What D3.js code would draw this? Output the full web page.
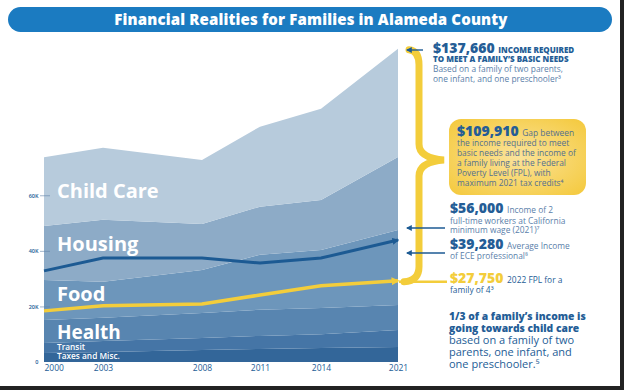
<!DOCTYPE html>
<html>
<head>
<meta charset="utf-8">
<script src="https://cdn.jsdelivr.net/npm/d3@7"></script>
<style>
  body { margin: 0; background: #fff; }
  svg { display: block; font-family: "Open Sans", sans-serif; }
</style>
</head>
<body>
<div id="displaybox"></div>
<script>
// years on the x axis
let years = [2000, 2003, 2008, 2011, 2014, 2021];

// stacked household costs (bottom to top)
let taxes     = [3200, 3600, 4300, 4700, 5000, 5400];
let transit   = [3600, 4000, 4300, 4700, 5000, 6100];
let health    = [8300, 8300, 9000, 9400, 9400, 9000];
let food      = [14400, 13000, 15500, 19800, 20900, 27000];
let housing   = [19400, 22300, 16600, 17300, 18000, 26300];
let childCare = [24800, 25900, 23000, 28800, 32800, 38900];

// lines drawn over the stack
let eceIncome = [32800, 37400, 37400, 35600, 37400, 43900];
let fplLine   = [18400, 20200, 20900, 24100, 27400, 29200];

let layerNames = ["Taxes and Misc.", "Transit", "Health", "Food", "Housing", "Child Care"];
let layerColors = ["#336699", "#4575a6", "#5885b0", "#6d96bb", "#8dabc7", "#b7cbdc"];
let yTicks = [0, 20000, 40000, 60000];

let table = years.map((yr, i) => ({
    year: yr,
    "Taxes and Misc.": taxes[i],
    "Transit": transit[i],
    "Health": health[i],
    "Food": food[i],
    "Housing": housing[i],
    "Child Care": childCare[i]
}));

let W = 624, H = 390;
let svg = d3.select("#displaybox").append("svg")
    .attr("width", W).attr("height", H);

let navy = "#245d96", soft = "#5a80aa", gold = "#f3cd3b";

// title pill
svg.append("rect")
    .attr("x", 8).attr("y", 7).attr("width", 604).attr("height", 25)
    .attr("rx", 12.5).attr("fill", "#1b7bc1");
svg.append("text")
    .attr("x", 311).attr("y", 25)
    .attr("text-anchor", "middle")
    .attr("fill", "#fff")
    .style("font-size", "15px").style("font-weight", 800)
    .style("letter-spacing", "0.15px")
    .text("Financial Realities for Families in Alameda County");

// scales: years are not evenly spaced in the original layout
let x = d3.scaleLinear()
    .domain(years)
    .range([44, 103, 202, 260, 321, 398]);
let y = d3.scaleLinear()
    .domain([0, 113000])
    .range([362, 48]);

let stack = d3.stack().keys(layerNames);
let series = stack(table);

let area = d3.area()
    .x(d => x(d.data.year))
    .y0(d => y(d[0]))
    .y1(d => y(d[1]));

svg.append("g").selectAll("path").data(series)
    .enter()
    .append("path")
        .attr("d", area)
        .attr("fill", (d, i) => layerColors[i]);

// y axis
let yAxis = svg.append("g")
    .attr("transform", "translate(50,0)")
    .call(d3.axisLeft(y).tickValues(yTicks)
        .tickFormat(d => d ? d / 1000 + "K" : "0")
        .tickSize(10).tickPadding(1.5));
yAxis.select(".domain").remove();
yAxis.selectAll("line").attr("stroke", "#5f82a8").attr("stroke-width", 0.6);
yAxis.selectAll(".tick").filter(d => d === 0).select("line").remove();
yAxis.selectAll("text")
    .attr("fill", navy)
    .style("font-size", "5.5px").style("font-weight", 600)
    .style("font-family", "Open Sans, sans-serif");

// x axis
let xAxis = svg.append("g")
    .attr("transform", "translate(0,362)")
    .call(d3.axisBottom(x).tickValues(years).tickFormat(d3.format("d"))
        .tickSize(0).tickPadding(3));
xAxis.select(".domain").remove();
xAxis.selectAll("text")
    .attr("fill", navy)
    .style("font-size", "8.5px").style("font-weight", 500)
    .style("font-family", "Open Sans, sans-serif")
    .attr("text-anchor", (d, i) => i === 0 ? "start" : "middle");

// arrow markers
let defs = svg.append("defs");
function marker(id, color, size) {
    defs.append("marker")
        .attr("id", id)
        .attr("viewBox", "0 0 10 10")
        .attr("refX", 8).attr("refY", 5)
        .attr("markerWidth", size).attr("markerHeight", size)
        .attr("markerUnits", "userSpaceOnUse")
        .attr("orient", "auto")
        .append("path")
            .attr("d", "M0,0 L10,5 L0,10 Z")
            .attr("fill", color);
}
marker("arrNavy", "#1c5a93", 7);
marker("arrGold", gold, 8);
marker("arrThin", "#1c5a93", 6);

let grad = defs.append("radialGradient").attr("id", "boxGrad")
    .attr("cx", "50%").attr("cy", "50%").attr("r", "70%");
grad.append("stop").attr("offset", "0%").attr("stop-color", "#fbe39a");
grad.append("stop").attr("offset", "100%").attr("stop-color", "#f4c93c");

// overlay lines
let line = d3.line()
    .x((d, i) => x(years[i]))
    .y(d => y(d));

svg.append("path")
    .attr("d", line(eceIncome))
    .attr("fill", "none")
    .attr("stroke", "#1c5a93")
    .attr("stroke-width", 3)
    .attr("marker-end", "url(#arrNavy)");

svg.append("path")
    .attr("d", line(fplLine))
    .attr("fill", "none")
    .attr("stroke", gold)
    .attr("stroke-width", 3.5)
    .attr("marker-end", "url(#arrGold)");

// layer labels
let bigLabels = [
    {t: "Child Care", y: 198, s: 20},
    {t: "Housing", y: 251, s: 20},
    {t: "Food", y: 301, s: 20},
    {t: "Health", y: 339, s: 19},
    {t: "Transit", y: 349.5, s: 8.3},
    {t: "Taxes and Misc.", y: 359, s: 8.3}
];
svg.append("g").selectAll("text").data(bigLabels)
    .enter()
    .append("text")
        .attr("x", 57).attr("y", d => d.y)
        .attr("fill", "#fff")
        .style("font-size", d => d.s + "px")
        .style("font-weight", d => d.s > 10 ? 700 : 600)
        .text(d => d.t);

// curly brace from the top of the stack down to the FPL line
let last = table[table.length - 1];
let topY = y(d3.sum(layerNames, k => last[k]));
let botY = y(fplLine[fplLine.length - 1]);
let midY = 160;
let bx = 419;
let brace = d3.path();
brace.moveTo(409, topY + 1);
brace.quadraticCurveTo(bx, topY + 2, bx, topY + 16);
brace.lineTo(bx, midY - 16);
brace.quadraticCurveTo(bx, midY - 2, bx + 25, midY);
brace.quadraticCurveTo(bx, midY + 2, bx, midY + 16);
brace.lineTo(bx, botY - 14);
brace.quadraticCurveTo(bx, botY, 404, botY + 1);
svg.append("path")
    .attr("d", brace.toString())
    .attr("fill", "none")
    .attr("stroke", gold)
    .attr("stroke-width", 7)
    .attr("stroke-linecap", "round");
svg.append("line")
    .attr("x1", 399).attr("x2", 447)
    .attr("y1", botY + 1).attr("y2", botY + 1)
    .attr("stroke", gold).attr("stroke-width", 2.5);

// pointer arrows on the right
let pointers = [
    {x1: 423, y: 50},
    {x1: 445, y: 228},
    {x1: 445, y: 253}
];
svg.append("g").selectAll("line").data(pointers)
    .enter()
    .append("line")
        .attr("x1", d => d.x1).attr("x2", 407)
        .attr("y1", d => d.y).attr("y2", d => d.y)
        .attr("stroke", "#1c5a93").attr("stroke-width", 1.4)
        .attr("marker-end", "url(#arrThin)");

// yellow call-out box
svg.append("rect")
    .attr("x", 449).attr("y", 119).attr("width", 137).attr("height", 76)
    .attr("rx", 12).attr("fill", "url(#boxGrad)");

function para(x0, lines) {
    let t = svg.append("text").attr("x", x0);
    lines.forEach(l => {
        let row = t.append("tspan").attr("x", x0).attr("y", l.y);
        l.parts.forEach(p => {
            row.append("tspan")
                .attr("fill", p.c)
                .style("font-size", p.s + "px")
                .style("font-weight", p.w || 400)
                .text(p.t);
        });
    });
}

let sm = 8.4;
para(433, [
    {y: 53, parts: [{t: "$137,660 ", c: navy, s: 14, w: 800}, {t: "INCOME REQUIRED", c: navy, s: 8, w: 800}]},
    {y: 62, parts: [{t: "TO MEET A FAMILY\u2019S BASIC NEEDS", c: navy, s: 8, w: 800}]},
    {y: 72, parts: [{t: "Based on a family of two parents,", c: soft, s: sm}]},
    {y: 81.5, parts: [{t: "one infant, and one preschooler\u00b3", c: soft, s: sm}]}
]);

let boxText = "#54708f";
para(457, [
    {y: 136, parts: [{t: "$109,910 ", c: navy, s: 14, w: 800}, {t: "Gap between", c: boxText, s: sm}]},
    {y: 146, parts: [{t: "the income required to meet", c: boxText, s: sm}]},
    {y: 156, parts: [{t: "basic needs and the income of", c: boxText, s: sm}]},
    {y: 166, parts: [{t: "a family living at the Federal", c: boxText, s: sm}]},
    {y: 176, parts: [{t: "Poverty Level (FPL), with", c: boxText, s: sm}]},
    {y: 186, parts: [{t: "maximum 2021 tax credits\u2074", c: boxText, s: sm}]}
]);

para(450, [
    {y: 213, parts: [{t: "$56,000 ", c: navy, s: 14, w: 800}, {t: "Income of 2", c: soft, s: sm}]},
    {y: 224, parts: [{t: "full-time workers at California", c: soft, s: sm}]},
    {y: 233, parts: [{t: "minimum wage (2021)\u2077", c: soft, s: sm}]},
    {y: 249, parts: [{t: "$39,280 ", c: navy, s: 14, w: 800}, {t: "Average Income", c: soft, s: sm}]},
    {y: 259, parts: [{t: "of ECE professional\u2078", c: soft, s: sm}]},
    {y: 283, parts: [{t: "$27,750 ", c: gold, s: 14, w: 800}, {t: "2022 FPL for a", c: navy, s: sm}]},
    {y: 292.5, parts: [{t: "family of 4\u00b3", c: navy, s: sm}]}
]);

para(449, [
    {y: 320, parts: [{t: "1/3 of a family\u2019s income is", c: navy, s: 10.3, w: 800}]},
    {y: 332, parts: [{t: "going towards child care", c: navy, s: 10.3, w: 800}]},
    {y: 344, parts: [{t: "based on a family of two", c: navy, s: 11}]},
    {y: 356, parts: [{t: "parents, one infant, and", c: navy, s: 11}]},
    {y: 368, parts: [{t: "one preschooler.\u2075", c: navy, s: 11}]}
]);

// dark frame on the right and bottom edges
svg.append("path")
    .attr("d", `M${W - 2},0 L${W - 2},${H - 2} L0,${H - 2}`)
    .attr("fill", "none").attr("stroke", "#222").attr("stroke-width", 4);
</script>
</body>
</html>
